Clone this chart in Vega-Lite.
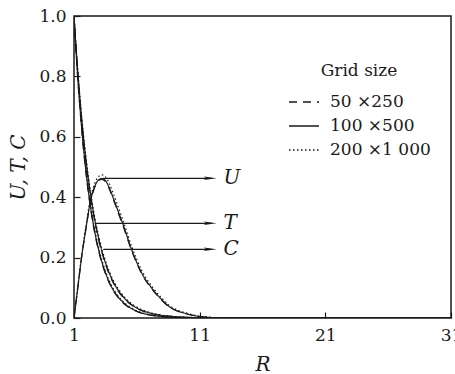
{
  "$schema": "https://vega.github.io/schema/vega-lite/v6.json",
  "width": 377,
  "height": 302,
  "autosize": {"type": "none"},
  "padding": {"left": 74, "top": 16, "right": 4, "bottom": 56},
  "config": {
    "font": "DejaVu Serif",
    "view": {"stroke": "#1a1a1a", "strokeWidth": 1.5},
    "axis": {
      "grid": false,
      "domain": false,
      "tickColor": "#1a1a1a",
      "tickSize": -6,
      "tickWidth": 1.2,
      "labelFont": "DejaVu Serif",
      "labelFontSize": 17,
      "labelColor": "#1a1a1a",
      "labelFlush": false,
      "titleFont": "DejaVu Serif",
      "titleFontSize": 20,
      "titleFontStyle": "italic",
      "titleFontWeight": "normal",
      "titleColor": "#1a1a1a"
    }
  },
  "datasets": {
    "curves": [
      {"R": 1, "v": 0, "curve": "U", "grid": "50 ×250"},
      {"R": 1.3, "v": 0.098, "curve": "U", "grid": "50 ×250"},
      {"R": 1.6, "v": 0.198, "curve": "U", "grid": "50 ×250"},
      {"R": 2.0, "v": 0.308, "curve": "U", "grid": "50 ×250"},
      {"R": 2.3, "v": 0.382, "curve": "U", "grid": "50 ×250"},
      {"R": 2.6, "v": 0.427, "curve": "U", "grid": "50 ×250"},
      {"R": 2.9, "v": 0.452, "curve": "U", "grid": "50 ×250"},
      {"R": 3.2, "v": 0.459, "curve": "U", "grid": "50 ×250"},
      {"R": 3.5, "v": 0.452, "curve": "U", "grid": "50 ×250"},
      {"R": 3.8, "v": 0.428, "curve": "U", "grid": "50 ×250"},
      {"R": 4.1, "v": 0.396, "curve": "U", "grid": "50 ×250"},
      {"R": 4.5, "v": 0.35, "curve": "U", "grid": "50 ×250"},
      {"R": 4.9, "v": 0.305, "curve": "U", "grid": "50 ×250"},
      {"R": 5.6, "v": 0.221, "curve": "U", "grid": "50 ×250"},
      {"R": 6.4, "v": 0.145, "curve": "U", "grid": "50 ×250"},
      {"R": 7.3, "v": 0.091, "curve": "U", "grid": "50 ×250"},
      {"R": 8.0, "v": 0.058, "curve": "U", "grid": "50 ×250"},
      {"R": 8.6, "v": 0.036, "curve": "U", "grid": "50 ×250"},
      {"R": 9.2, "v": 0.023, "curve": "U", "grid": "50 ×250"},
      {"R": 9.9, "v": 0.014, "curve": "U", "grid": "50 ×250"},
      {"R": 11, "v": 0.005, "curve": "U", "grid": "50 ×250"},
      {"R": 12.5, "v": 0.001, "curve": "U", "grid": "50 ×250"},
      {"R": 15, "v": 0, "curve": "U", "grid": "50 ×250"},
      {"R": 31, "v": 0, "curve": "U", "grid": "50 ×250"},

      {"R": 1, "v": 0, "curve": "U", "grid": "100 ×500"},
      {"R": 1.3, "v": 0.1, "curve": "U", "grid": "100 ×500"},
      {"R": 1.6, "v": 0.2, "curve": "U", "grid": "100 ×500"},
      {"R": 2.0, "v": 0.31, "curve": "U", "grid": "100 ×500"},
      {"R": 2.3, "v": 0.385, "curve": "U", "grid": "100 ×500"},
      {"R": 2.6, "v": 0.43, "curve": "U", "grid": "100 ×500"},
      {"R": 2.9, "v": 0.455, "curve": "U", "grid": "100 ×500"},
      {"R": 3.2, "v": 0.462, "curve": "U", "grid": "100 ×500"},
      {"R": 3.5, "v": 0.455, "curve": "U", "grid": "100 ×500"},
      {"R": 3.8, "v": 0.432, "curve": "U", "grid": "100 ×500"},
      {"R": 4.1, "v": 0.4, "curve": "U", "grid": "100 ×500"},
      {"R": 4.5, "v": 0.355, "curve": "U", "grid": "100 ×500"},
      {"R": 4.9, "v": 0.31, "curve": "U", "grid": "100 ×500"},
      {"R": 5.6, "v": 0.225, "curve": "U", "grid": "100 ×500"},
      {"R": 6.4, "v": 0.148, "curve": "U", "grid": "100 ×500"},
      {"R": 7.3, "v": 0.093, "curve": "U", "grid": "100 ×500"},
      {"R": 8.0, "v": 0.06, "curve": "U", "grid": "100 ×500"},
      {"R": 8.6, "v": 0.037, "curve": "U", "grid": "100 ×500"},
      {"R": 9.2, "v": 0.024, "curve": "U", "grid": "100 ×500"},
      {"R": 9.9, "v": 0.015, "curve": "U", "grid": "100 ×500"},
      {"R": 11, "v": 0.005, "curve": "U", "grid": "100 ×500"},
      {"R": 12.5, "v": 0.001, "curve": "U", "grid": "100 ×500"},
      {"R": 15, "v": 0, "curve": "U", "grid": "100 ×500"},
      {"R": 31, "v": 0, "curve": "U", "grid": "100 ×500"},

      {"R": 1, "v": 0, "curve": "U", "grid": "200 ×1 000"},
      {"R": 1.3, "v": 0.105, "curve": "U", "grid": "200 ×1 000"},
      {"R": 1.6, "v": 0.205, "curve": "U", "grid": "200 ×1 000"},
      {"R": 2.0, "v": 0.318, "curve": "U", "grid": "200 ×1 000"},
      {"R": 2.3, "v": 0.395, "curve": "U", "grid": "200 ×1 000"},
      {"R": 2.6, "v": 0.44, "curve": "U", "grid": "200 ×1 000"},
      {"R": 2.9, "v": 0.466, "curve": "U", "grid": "200 ×1 000"},
      {"R": 3.2, "v": 0.474, "curve": "U", "grid": "200 ×1 000"},
      {"R": 3.5, "v": 0.468, "curve": "U", "grid": "200 ×1 000"},
      {"R": 3.8, "v": 0.446, "curve": "U", "grid": "200 ×1 000"},
      {"R": 4.1, "v": 0.415, "curve": "U", "grid": "200 ×1 000"},
      {"R": 4.5, "v": 0.37, "curve": "U", "grid": "200 ×1 000"},
      {"R": 4.9, "v": 0.323, "curve": "U", "grid": "200 ×1 000"},
      {"R": 5.6, "v": 0.236, "curve": "U", "grid": "200 ×1 000"},
      {"R": 6.4, "v": 0.157, "curve": "U", "grid": "200 ×1 000"},
      {"R": 7.3, "v": 0.099, "curve": "U", "grid": "200 ×1 000"},
      {"R": 8.0, "v": 0.065, "curve": "U", "grid": "200 ×1 000"},
      {"R": 8.6, "v": 0.041, "curve": "U", "grid": "200 ×1 000"},
      {"R": 9.2, "v": 0.027, "curve": "U", "grid": "200 ×1 000"},
      {"R": 9.9, "v": 0.017, "curve": "U", "grid": "200 ×1 000"},
      {"R": 11, "v": 0.006, "curve": "U", "grid": "200 ×1 000"},
      {"R": 12.5, "v": 0.001, "curve": "U", "grid": "200 ×1 000"},
      {"R": 15, "v": 0, "curve": "U", "grid": "200 ×1 000"},
      {"R": 31, "v": 0, "curve": "U", "grid": "200 ×1 000"},

      {"R": 1, "v": 1, "curve": "T", "grid": "50 ×250"},
      {"R": 1.25, "v": 0.84, "curve": "T", "grid": "50 ×250"},
      {"R": 1.5, "v": 0.706, "curve": "T", "grid": "50 ×250"},
      {"R": 1.75, "v": 0.593, "curve": "T", "grid": "50 ×250"},
      {"R": 2, "v": 0.5, "curve": "T", "grid": "50 ×250"},
      {"R": 2.5, "v": 0.355, "curve": "T", "grid": "50 ×250"},
      {"R": 3, "v": 0.252, "curve": "T", "grid": "50 ×250"},
      {"R": 3.5, "v": 0.179, "curve": "T", "grid": "50 ×250"},
      {"R": 4, "v": 0.127, "curve": "T", "grid": "50 ×250"},
      {"R": 4.5, "v": 0.09, "curve": "T", "grid": "50 ×250"},
      {"R": 5, "v": 0.064, "curve": "T", "grid": "50 ×250"},
      {"R": 6, "v": 0.032, "curve": "T", "grid": "50 ×250"},
      {"R": 7, "v": 0.016, "curve": "T", "grid": "50 ×250"},
      {"R": 8, "v": 0.0082, "curve": "T", "grid": "50 ×250"},
      {"R": 9, "v": 0.0041, "curve": "T", "grid": "50 ×250"},
      {"R": 10, "v": 0.0021, "curve": "T", "grid": "50 ×250"},
      {"R": 12, "v": 0.0006, "curve": "T", "grid": "50 ×250"},
      {"R": 15, "v": 0, "curve": "T", "grid": "50 ×250"},
      {"R": 31, "v": 0, "curve": "T", "grid": "50 ×250"},

      {"R": 1, "v": 1, "curve": "T", "grid": "100 ×500"},
      {"R": 1.25, "v": 0.844, "curve": "T", "grid": "100 ×500"},
      {"R": 1.5, "v": 0.712, "curve": "T", "grid": "100 ×500"},
      {"R": 1.75, "v": 0.6, "curve": "T", "grid": "100 ×500"},
      {"R": 2, "v": 0.507, "curve": "T", "grid": "100 ×500"},
      {"R": 2.5, "v": 0.361, "curve": "T", "grid": "100 ×500"},
      {"R": 3, "v": 0.257, "curve": "T", "grid": "100 ×500"},
      {"R": 3.5, "v": 0.183, "curve": "T", "grid": "100 ×500"},
      {"R": 4, "v": 0.13, "curve": "T", "grid": "100 ×500"},
      {"R": 4.5, "v": 0.093, "curve": "T", "grid": "100 ×500"},
      {"R": 5, "v": 0.066, "curve": "T", "grid": "100 ×500"},
      {"R": 6, "v": 0.033, "curve": "T", "grid": "100 ×500"},
      {"R": 7, "v": 0.017, "curve": "T", "grid": "100 ×500"},
      {"R": 8, "v": 0.0086, "curve": "T", "grid": "100 ×500"},
      {"R": 9, "v": 0.0043, "curve": "T", "grid": "100 ×500"},
      {"R": 10, "v": 0.0022, "curve": "T", "grid": "100 ×500"},
      {"R": 12, "v": 0.0006, "curve": "T", "grid": "100 ×500"},
      {"R": 15, "v": 0, "curve": "T", "grid": "100 ×500"},
      {"R": 31, "v": 0, "curve": "T", "grid": "100 ×500"},

      {"R": 1, "v": 1, "curve": "T", "grid": "200 ×1 000"},
      {"R": 1.25, "v": 0.85, "curve": "T", "grid": "200 ×1 000"},
      {"R": 1.5, "v": 0.72, "curve": "T", "grid": "200 ×1 000"},
      {"R": 1.75, "v": 0.61, "curve": "T", "grid": "200 ×1 000"},
      {"R": 2, "v": 0.517, "curve": "T", "grid": "200 ×1 000"},
      {"R": 2.5, "v": 0.37, "curve": "T", "grid": "200 ×1 000"},
      {"R": 3, "v": 0.265, "curve": "T", "grid": "200 ×1 000"},
      {"R": 3.5, "v": 0.19, "curve": "T", "grid": "200 ×1 000"},
      {"R": 4, "v": 0.136, "curve": "T", "grid": "200 ×1 000"},
      {"R": 4.5, "v": 0.098, "curve": "T", "grid": "200 ×1 000"},
      {"R": 5, "v": 0.07, "curve": "T", "grid": "200 ×1 000"},
      {"R": 6, "v": 0.036, "curve": "T", "grid": "200 ×1 000"},
      {"R": 7, "v": 0.019, "curve": "T", "grid": "200 ×1 000"},
      {"R": 8, "v": 0.0095, "curve": "T", "grid": "200 ×1 000"},
      {"R": 9, "v": 0.0048, "curve": "T", "grid": "200 ×1 000"},
      {"R": 10, "v": 0.0024, "curve": "T", "grid": "200 ×1 000"},
      {"R": 12, "v": 0.0007, "curve": "T", "grid": "200 ×1 000"},
      {"R": 15, "v": 0, "curve": "T", "grid": "200 ×1 000"},
      {"R": 31, "v": 0, "curve": "T", "grid": "200 ×1 000"},

      {"R": 1, "v": 1, "curve": "C", "grid": "50 ×250"},
      {"R": 1.25, "v": 0.823, "curve": "C", "grid": "50 ×250"},
      {"R": 1.5, "v": 0.679, "curve": "C", "grid": "50 ×250"},
      {"R": 1.75, "v": 0.56, "curve": "C", "grid": "50 ×250"},
      {"R": 2, "v": 0.462, "curve": "C", "grid": "50 ×250"},
      {"R": 2.5, "v": 0.315, "curve": "C", "grid": "50 ×250"},
      {"R": 3, "v": 0.215, "curve": "C", "grid": "50 ×250"},
      {"R": 3.5, "v": 0.147, "curve": "C", "grid": "50 ×250"},
      {"R": 4, "v": 0.1, "curve": "C", "grid": "50 ×250"},
      {"R": 4.5, "v": 0.068, "curve": "C", "grid": "50 ×250"},
      {"R": 5, "v": 0.046, "curve": "C", "grid": "50 ×250"},
      {"R": 6, "v": 0.0215, "curve": "C", "grid": "50 ×250"},
      {"R": 7, "v": 0.01, "curve": "C", "grid": "50 ×250"},
      {"R": 8, "v": 0.0047, "curve": "C", "grid": "50 ×250"},
      {"R": 9, "v": 0.0022, "curve": "C", "grid": "50 ×250"},
      {"R": 10, "v": 0.001, "curve": "C", "grid": "50 ×250"},
      {"R": 12, "v": 0.0002, "curve": "C", "grid": "50 ×250"},
      {"R": 15, "v": 0, "curve": "C", "grid": "50 ×250"},
      {"R": 31, "v": 0, "curve": "C", "grid": "50 ×250"},

      {"R": 1, "v": 1, "curve": "C", "grid": "100 ×500"},
      {"R": 1.25, "v": 0.827, "curve": "C", "grid": "100 ×500"},
      {"R": 1.5, "v": 0.684, "curve": "C", "grid": "100 ×500"},
      {"R": 1.75, "v": 0.566, "curve": "C", "grid": "100 ×500"},
      {"R": 2, "v": 0.468, "curve": "C", "grid": "100 ×500"},
      {"R": 2.5, "v": 0.32, "curve": "C", "grid": "100 ×500"},
      {"R": 3, "v": 0.219, "curve": "C", "grid": "100 ×500"},
      {"R": 3.5, "v": 0.15, "curve": "C", "grid": "100 ×500"},
      {"R": 4, "v": 0.102, "curve": "C", "grid": "100 ×500"},
      {"R": 4.5, "v": 0.07, "curve": "C", "grid": "100 ×500"},
      {"R": 5, "v": 0.048, "curve": "C", "grid": "100 ×500"},
      {"R": 6, "v": 0.0224, "curve": "C", "grid": "100 ×500"},
      {"R": 7, "v": 0.0105, "curve": "C", "grid": "100 ×500"},
      {"R": 8, "v": 0.0049, "curve": "C", "grid": "100 ×500"},
      {"R": 9, "v": 0.0023, "curve": "C", "grid": "100 ×500"},
      {"R": 10, "v": 0.0011, "curve": "C", "grid": "100 ×500"},
      {"R": 12, "v": 0.0002, "curve": "C", "grid": "100 ×500"},
      {"R": 15, "v": 0, "curve": "C", "grid": "100 ×500"},
      {"R": 31, "v": 0, "curve": "C", "grid": "100 ×500"},

      {"R": 1, "v": 1, "curve": "C", "grid": "200 ×1 000"},
      {"R": 1.25, "v": 0.833, "curve": "C", "grid": "200 ×1 000"},
      {"R": 1.5, "v": 0.692, "curve": "C", "grid": "200 ×1 000"},
      {"R": 1.75, "v": 0.575, "curve": "C", "grid": "200 ×1 000"},
      {"R": 2, "v": 0.477, "curve": "C", "grid": "200 ×1 000"},
      {"R": 2.5, "v": 0.328, "curve": "C", "grid": "200 ×1 000"},
      {"R": 3, "v": 0.226, "curve": "C", "grid": "200 ×1 000"},
      {"R": 3.5, "v": 0.156, "curve": "C", "grid": "200 ×1 000"},
      {"R": 4, "v": 0.107, "curve": "C", "grid": "200 ×1 000"},
      {"R": 4.5, "v": 0.074, "curve": "C", "grid": "200 ×1 000"},
      {"R": 5, "v": 0.051, "curve": "C", "grid": "200 ×1 000"},
      {"R": 6, "v": 0.024, "curve": "C", "grid": "200 ×1 000"},
      {"R": 7, "v": 0.0113, "curve": "C", "grid": "200 ×1 000"},
      {"R": 8, "v": 0.0053, "curve": "C", "grid": "200 ×1 000"},
      {"R": 9, "v": 0.0025, "curve": "C", "grid": "200 ×1 000"},
      {"R": 10, "v": 0.0012, "curve": "C", "grid": "200 ×1 000"},
      {"R": 12, "v": 0.0002, "curve": "C", "grid": "200 ×1 000"},
      {"R": 15, "v": 0, "curve": "C", "grid": "200 ×1 000"},
      {"R": 31, "v": 0, "curve": "C", "grid": "200 ×1 000"}
    ],
    "pointers": [
      {"curve": "U", "from": 3.3, "to": 11.9, "head": 11.84, "at": 12.9, "v": 0.4626},
      {"curve": "T", "from": 2.67, "to": 11.9, "head": 11.84, "at": 12.9, "v": 0.3136},
      {"curve": "C", "from": 3.33, "to": 11.9, "head": 11.84, "at": 12.9, "v": 0.2275}
    ]
  },
  "layer": [
    {
      "data": {"name": "curves"},
      "mark": {"type": "line", "interpolate": "monotone", "color": "#1a1a1a", "strokeWidth": 1.2, "clip": true},
      "encoding": {
        "x": {
          "field": "R",
          "type": "quantitative",
          "scale": {"domain": [1, 31], "nice": false, "zero": false},
          "axis": {"title": "R", "values": [1, 11, 21, 31], "labelPadding": 15, "titlePadding": 11}
        },
        "y": {
          "field": "v",
          "type": "quantitative",
          "scale": {"domain": [0, 1], "nice": false},
          "axis": {"title": "U, T, C", "values": [0, 0.2, 0.4, 0.6, 0.8, 1.0], "format": ".1f", "labelPadding": 14, "titlePadding": 10}
        },
        "detail": {"field": "curve"},
        "strokeDash": {
          "field": "grid",
          "type": "nominal",
          "scale": {
            "domain": ["50 ×250", "100 ×500", "200 ×1 000"],
            "range": [[8, 6], [1, 0], [1.5, 2.5]]
          },
          "legend": {
            "title": "Grid size",
            "orient": "none",
            "legendX": 214,
            "legendY": 47,
            "titleAnchor": "middle",
            "titleFont": "DejaVu Serif",
            "titleFontSize": 17,
            "titleFontWeight": "normal",
            "titleColor": "#1a1a1a",
            "titlePadding": 6,
            "labelFont": "DejaVu Serif",
            "labelFontSize": 17,
            "labelColor": "#1a1a1a",
            "labelOffset": 10,
            "symbolType": "stroke",
            "symbolSize": 900,
            "symbolStrokeWidth": 1.3,
            "symbolStrokeColor": "#1a1a1a",
            "rowPadding": 0
          }
        }
      }
    },
    {
      "data": {"name": "pointers"},
      "mark": {"type": "rule", "color": "#1a1a1a", "strokeWidth": 1.2},
      "encoding": {
        "x": {"field": "from", "type": "quantitative"},
        "x2": {"field": "to"},
        "y": {"field": "v", "type": "quantitative"}
      }
    },
    {
      "data": {"name": "pointers"},
      "mark": {
        "type": "point",
        "shape": "M-1,-0.27L1,0L-1,0.27L-0.6,0Z",
        "filled": true,
        "color": "#1a1a1a",
        "opacity": 1,
        "size": 169
      },
      "encoding": {
        "x": {"field": "head", "type": "quantitative"},
        "y": {"field": "v", "type": "quantitative"}
      }
    },
    {
      "data": {"name": "pointers"},
      "mark": {
        "type": "text",
        "align": "left",
        "baseline": "middle",
        "font": "DejaVu Serif",
        "fontStyle": "italic",
        "fontSize": 20,
        "color": "#1a1a1a"
      },
      "encoding": {
        "x": {"field": "at", "type": "quantitative"},
        "y": {"field": "v", "type": "quantitative"},
        "text": {"field": "curve"}
      }
    }
  ]
}
